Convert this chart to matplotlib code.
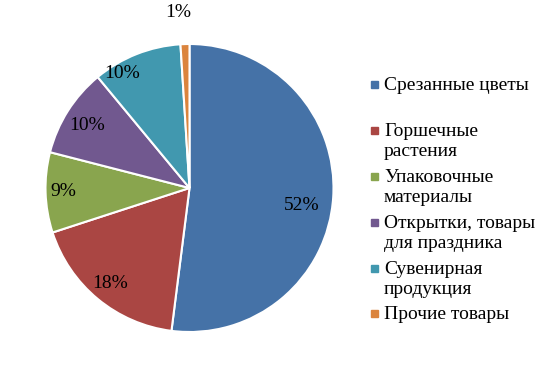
import numpy as np
import matplotlib.pyplot as plt
from matplotlib.patches import Rectangle

plt.rcParams['font.family'] = ['Liberation Serif', 'DejaVu Serif']

categories = ["Срезанные цветы", "Горшечные\nрастения", "Упаковочные\nматериалы",
              "Открытки, товары\nдля праздника", "Сувенирная\nпродукция", "Прочие товары"]
shares = [52, 18, 9, 10, 10, 1]
pct_labels = ["52%", "18%", "9%", "10%", "10%", "1%"]
colors = ["#4572A7", "#AA4643", "#89A54E", "#71588F", "#4198AF", "#DB843D"]

W, H = 557, 374
fig = plt.figure(figsize=(W / 100, H / 100), dpi=100)

cx, cy, r = 189.5, 188, 144
ax = fig.add_axes([(cx - r) / W, (H - cy - r) / H, 2 * r / W, 2 * r / H])
wedges, _ = ax.pie(shares, colors=colors, startangle=90, counterclock=False,
                   radius=1, wedgeprops=dict(edgecolor='white', linewidth=1.5))
ax.set_xlim(-1, 1)
ax.set_ylim(-1, 1)
ax.axis('off')

# label placement (radius factor, angle shift in degrees)
label_pos = [(0.79, -5), (0.86, 0), (0.88, 0), (0.83, 1), (0.92, 9), (1.22, 2)]
for w, txt, (lr, da) in zip(wedges, pct_labels, label_pos):
    ang = np.deg2rad((w.theta1 + w.theta2) / 2 + da)
    ax.text(lr * np.cos(ang), lr * np.sin(ang), txt, ha='center', va='center',
            fontsize=14, clip_on=False)

# legend
ys = [84, 130, 176, 222, 268, 313]
for lab, col, y in zip(categories, colors, ys):
    fig.patches.append(Rectangle((371 / W, (H - y - 3.5) / H), 7 / W, 7 / H,
                                 transform=fig.transFigure, color=col))
    fig.text(384 / W, (H - y + 7) / H, lab, ha='left', va='top', fontsize=14,
             linespacing=1.2, transform=fig.transFigure)

fig.savefig("out.png", dpi=100)
